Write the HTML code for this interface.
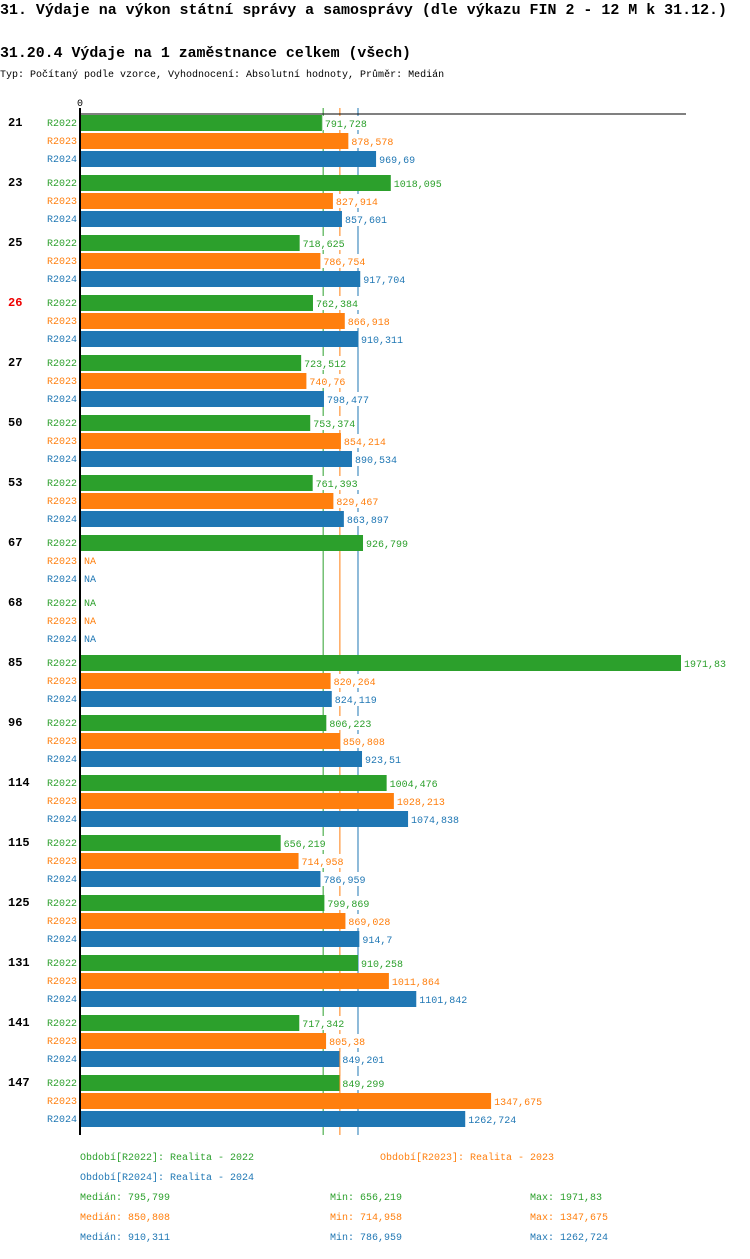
<!DOCTYPE html>
<html><head><meta charset="utf-8"><style>
body{margin:0;background:#fff;width:750px;height:1254px;overflow:hidden;font-family:"Liberation Mono","DejaVu Sans Mono",monospace}
svg text{font-family:"Liberation Mono","DejaVu Sans Mono",monospace}
</style></head><body>
<svg id="c" width="750" height="1254">
<text x="0" y="14" font-size="14.6" font-weight="bold" textLength="727" lengthAdjust="spacingAndGlyphs">31. Výdaje na výkon státní správy a samosprávy (dle výkazu FIN 2 - 12 M k 31.12.)</text>
<text x="0" y="57" font-size="14.6" font-weight="bold" textLength="411" lengthAdjust="spacingAndGlyphs">31.20.4 Výdaje na 1 zaměstnance celkem (všech)</text>
<text x="0" y="77" font-size="10">Typ: Počítaný podle vzorce, Vyhodnocení: Absolutní hodnoty, Průměr: Medián</text>
</svg>
<script>
const categories=["21","23","25","26","27","50","53","67","68","85","96","114","115","125","131","141","147"];
const seriesNames=["R2022","R2023","R2024"];
const r2022=[791.728,1018.095,718.625,762.384,723.512,753.374,761.393,926.799,null,1971.83,806.223,1004.476,656.219,799.869,910.258,717.342,849.299];
const r2023=[878.578,827.914,786.754,866.918,740.76,854.214,829.467,null,null,820.264,850.808,1028.213,714.958,869.028,1011.864,805.38,1347.675];
const r2024=[969.69,857.601,917.704,910.311,798.477,890.534,863.897,null,null,824.119,923.51,1074.838,786.959,914.7,1101.842,849.201,1262.724];
const medians=[795.799,850.808,910.311];
const mins=[656.219,714.958,786.959];
const maxs=[1971.83,1347.675,1262.724];
const highlight="26";
const colors=["#2ca02c","#ff7f0e","#1f77b4"];
const svg=document.getElementById('c');
const NS="http://www.w3.org/2000/svg";
const x0=81,xMax=681;
const xs=v=>x0+(v/1971.83)*(xMax-x0);
function mk(t,a,txt){const e=document.createElementNS(NS,t);for(const k in a)e.setAttribute(k,a[k]);if(txt!=null)e.textContent=txt;svg.appendChild(e);return e;}
function fmt(v){return String(v).replace('.',',');}
const series=[r2022,r2023,r2024];
medians.forEach((m,j)=>{
  const ln=mk('line',{x1:xs(m),x2:xs(m),y1:108,y2:1135,stroke:colors[j],'stroke-width':1});
  
  
});
categories.forEach((c,i)=>{
  const gy=115+i*60;
  const l=mk('text',{x:8,y:gy+11,'font-size':12,'font-weight':'bold',fill:c===highlight?'#e00':'#000'},c);
  
  
  series.forEach((s,j)=>{
    const y=gy+j*18;
    const sl=mk('text',{x:47,y:y+11,'font-size':10,fill:colors[j]},seriesNames[j]);
    
    
    const v=s[i];
    if(v==null){
      const na=mk('text',{x:84,y:y+11,'font-size':10,fill:colors[j]},'NA');
      
      
      return;
    }
    const w=xs(v)-x0;
    const b=mk('rect',{x:x0,y:y,width:w,height:16,fill:colors[j]});
    
    
    const s2=fmt(v);
    const bg=mk('rect',{x:x0+w+1,y:y+1,width:s2.length*6+4,height:14,fill:'#fff'});
    
    
    const vl=mk('text',{x:x0+w+3,y:y+12,'font-size':10,fill:colors[j]},s2);
    
    
  });
});
const ax=mk('line',{x1:80,x2:80,y1:108,y2:1135,stroke:'#000','stroke-width':2});


const tx=mk('line',{x1:80,x2:686,y1:114,y2:114,stroke:'#000','stroke-width':1});


const z=mk('text',{x:77,y:106,'font-size':10},'0');


const leg=[[80,1160,0,'Období[R2022]: Realita - 2022'],[380,1160,1,'Období[R2023]: Realita - 2023'],[80,1180,2,'Období[R2024]: Realita - 2024']];
leg.forEach(d=>{
  const t=mk('text',{x:d[0],y:d[1],'font-size':10,fill:colors[d[2]]},d[3]);
  
  
});
medians.forEach((m,j)=>{
  const y=1200+j*20;
  const a=mk('text',{x:80,y:y,'font-size':10,fill:colors[j]},'Medián: '+fmt(m));
  
  
  const b=mk('text',{x:330,y:y,'font-size':10,fill:colors[j]},'Min: '+fmt(mins[j]));
  
  
  const c=mk('text',{x:530,y:y,'font-size':10,fill:colors[j]},'Max: '+fmt(maxs[j]));
  
  
});
</script>
</body></html>
